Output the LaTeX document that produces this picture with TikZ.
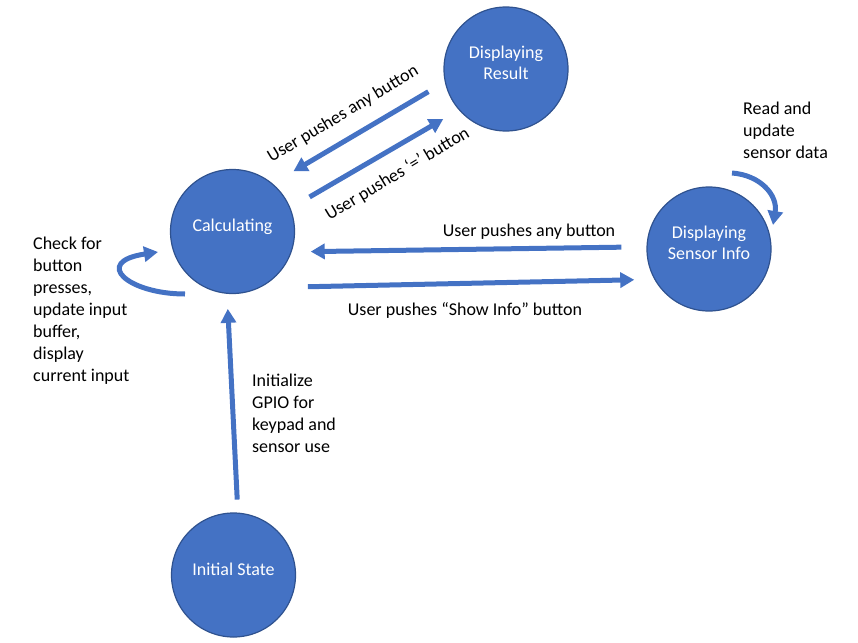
\documentclass[tikz,border=0pt]{standalone}
\usepackage{fontspec}
\setmainfont{Carlito}
\usetikzlibrary{arrows.meta}
\definecolor{stfill}{HTML}{4472C4}
\definecolor{stline}{HTML}{2F528F}

\begin{document}
\begin{tikzpicture}[x=1pt,y=1pt,>={Triangle[length=14pt,width=15pt]}]
  \tikzstyle{circ}=[circle,draw=stline,fill=stfill,line width=1.2pt,minimum size=124pt,inner sep=0pt,align=center,text=white,text depth=12pt,font=\fontsize{18}{21}\selectfont]
  \tikzstyle{arr}=[draw=stfill,line width=5pt,->]
  \tikzstyle{lbl}=[font=\fontsize{18}{22}\selectfont,inner sep=0pt]
  \useasboundingbox (0,0) rectangle (858,-642);
  % states
  \node[circ] (calc) at (232.5,-231.5) {Calculating};
  \node[circ] (res) at (506,-69) {Displaying\\Result};
  \node[circ] (sens) at (709,-249) {Displaying\\Sensor Info};
  \node[circ] (init) at (233.5,-575) {Initial State};
  % transitions
  \draw[arr,shorten <=19pt,shorten >=24pt] (res.192) -- (calc.50);
  \draw[arr,shorten <=22pt,shorten >=18pt] (calc.22) -- (res.221);
  \draw[arr,shorten <=25pt,shorten >=19pt] (sens.178) -- (calc.341);
  \draw[arr,shorten <=48pt,shorten >=20pt] (calc.296) -- (sens.209);
  \draw[arr,shorten <=13pt,shorten >=15pt] (init.86) -- (calc.265);
  \draw[arr] ([shift={(-47.5,-62.5)}]calc.center) .. controls +(-57,0) and +(-66,-10) .. ([shift={(-74.5,-20.5)}]calc.center);
  \draw[arr] ([shift={(23,76)}]sens.center) .. controls +(28,-2) and +(5,30) .. ([shift={(64,24)}]sens.center);
  % labels
  \node[lbl,anchor=base,rotate=31] (anyres) at (345.5,-118.5) {User pushes any button};
  \node[lbl,anchor=base,rotate=31] (eq) at (400,-178.5) {User pushes ‘=’ button};
  \node[lbl,anchor=base] (anysens) at (529,-236) {User pushes any button};
  \node[lbl,anchor=base] (show) at (465,-315) {User pushes “Show Info” button};
  \node[lbl,anchor=north west,align=left] (calcloop) at (33,-237) {Check for\\button\\presses,\\update input\\buffer,\\display\\current input};
  \node[lbl,anchor=north west,align=left] (initlbl) at (252,-374) {Initialize\\GPIO for\\keypad and\\sensor use};
  \node[lbl,anchor=north west,align=left] (sensloop) at (743,-101.5) {Read and\\update\\sensor data};
\end{tikzpicture}
\end{document}
